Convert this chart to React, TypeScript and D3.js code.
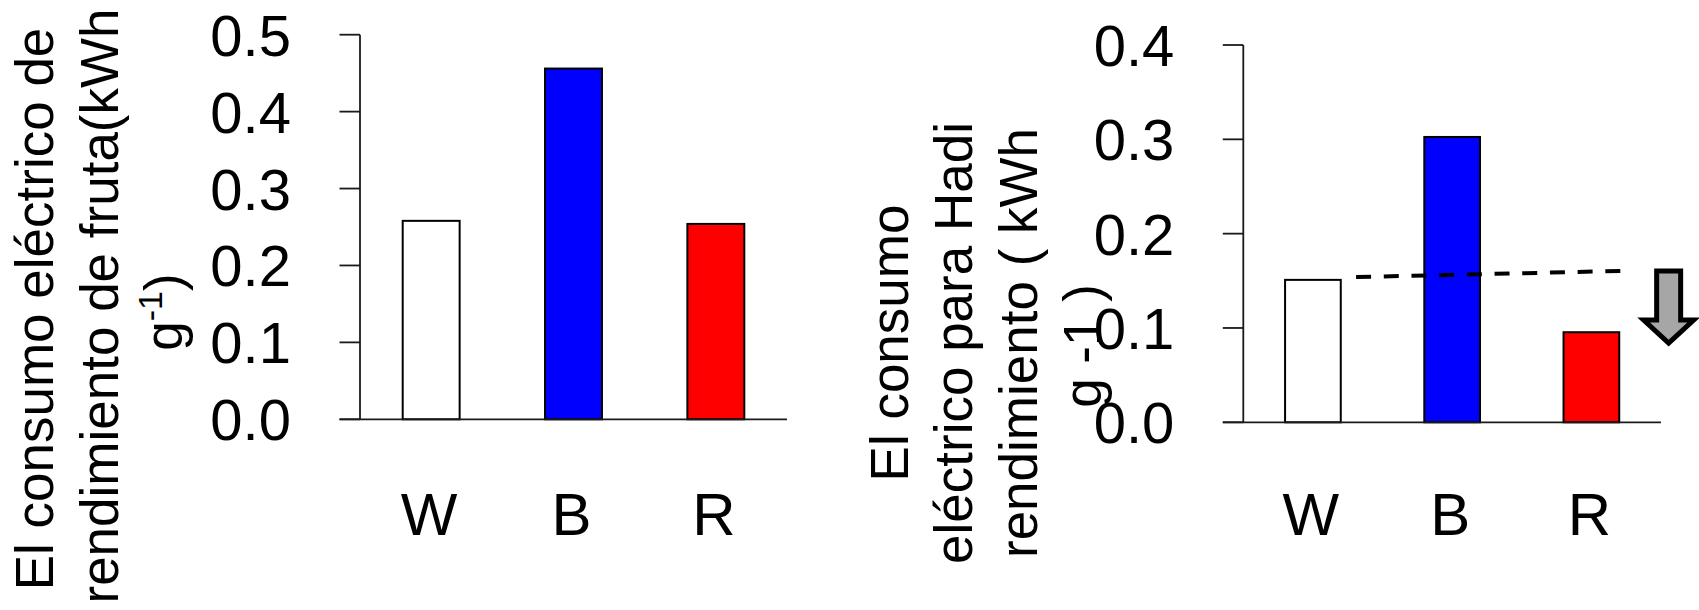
import React from "react";
import * as d3 from "d3";

// ---- data ----
const categories = ["W", "B", "R"];
const fruitValues = [0.258, 0.456, 0.254];
const hadiValues = [0.151, 0.3025, 0.0955];
const barColors = ["#FFFFFF", "#0000FF", "#FF0000"];
const leftTicks = [0, 0.1, 0.2, 0.3, 0.4, 0.5];
const rightTicks = [0, 0.1, 0.2, 0.3, 0.4];
const leftTitleLines = ["El consumo eléctrico de", "rendimiento de fruta(kWh"];
const rightTitleLines = ["El consumo", "eléctrico para Hadi", "rendimiento ( kWh", "g -1 )"];
// dashed reference line in (category-index, value) units
const trendPos = [0.31, 2.23];
const trendValues = [0.154, 0.1605];
// arrow in (category-index, value) units
const arrowPos = 2.555;
const arrowValues = [0.1604, 0.084];

const FONT = "'Liberation Sans', Arial, 'Noto Sans CJK JP', sans-serif";

type PanelProps = {
  values: number[];
  ticks: number[];
  yMax: number;
  x0: number;
  x1: number;
  yZero: number;
  yTop: number;
  children?: (sc: { x: d3.ScaleBand<string>; y: d3.ScaleLinear<number, number> }) => React.ReactNode;
};

function Panel({ values, ticks, yMax, x0, x1, yZero, yTop, children }: PanelProps) {
  const x = d3.scaleBand<string>().domain(categories).range([x0, x1]).paddingInner(0.6).paddingOuter(0.3);
  const y = d3.scaleLinear().domain([0, yMax]).range([yZero, yTop]);
  const tickLen = 20.5;
  return (
    <g>
      {values.map((v, i) => (
        <rect
          key={categories[i]}
          x={x(categories[i])}
          y={y(v)}
          width={x.bandwidth()}
          height={y(0) - y(v)}
          fill={barColors[i]}
          stroke="#000"
          strokeWidth={2}
        />
      ))}
      <line x1={x0} x2={x0} y1={y(yMax)} y2={y(0)} stroke="#1a1a1a" strokeWidth={1.8} />
      <line x1={x0 - tickLen} x2={x1} y1={y(0)} y2={y(0)} stroke="#1a1a1a" strokeWidth={1.8} />
      {ticks.map((t) => (
        <g key={t}>
          <line x1={x0 - tickLen} x2={x0} y1={y(t)} y2={y(t)} stroke="#1a1a1a" strokeWidth={1.8} />
          <text x={x0 - 69} y={y(t) + 21} textAnchor="end" fontSize={58} fontFamily={FONT} fill="#000">
            {t.toFixed(1)}
          </text>
        </g>
      ))}
      {categories.map((c) => (
        <text
          key={c}
          x={(x(c) as number) + x.bandwidth() / 2 - 2}
          y={535}
          textAnchor="middle"
          fontSize={60}
          fontFamily={FONT}
          fill="#000"
        >
          {c}
        </text>
      ))}
      {children ? children({ x, y }) : null}
    </g>
  );
}

function RotLine({ x, y, text, children }: { x: number; y: number; text?: string; children?: React.ReactNode }) {
  return (
    <text
      transform={`translate(${x},${y}) rotate(-90)`}
      textAnchor="middle"
      fontSize={53}
      fontFamily={FONT}
      fill="#000"
    >
      {text}
      {children}
    </text>
  );
}

export default function App() {
  return (
    <svg
      width={1699}
      height={610}
      style={{ position: "absolute", left: 0, top: 0, background: "#fff" }}
      xmlns="http://www.w3.org/2000/svg"
    >
      <rect width={1699} height={610} fill="#fff" />
      {/* left titles */}
      <RotLine x={53} y={309} text={leftTitleLines[0]} />
      <RotLine x={118} y={306} text={leftTitleLines[1]} />
      <RotLine x={182} y={312}>
        g<tspan dy={-20} fontSize={34}>-1</tspan>
        <tspan dy={20}>)</tspan>
      </RotLine>
      <Panel values={fruitValues} ticks={leftTicks} yMax={0.5} x0={360} x1={787} yZero={419.3} yTop={34.7} />

      {/* right titles */}
      {rightTitleLines.map((t, i) => (
        <RotLine key={i} x={908 + i * 64.3} y={i === 3 ? 346 : 343} text={t} />
      ))}
      <Panel values={hadiValues} ticks={rightTicks} yMax={0.4} x0={1243.3} x1={1661} yZero={422.3} yTop={45}>
        {({ x, y }) => {
          const step = x.step();
          const c0 = (x(categories[0]) as number) + x.bandwidth() / 2;
          const px = (p: number) => c0 + p * step;
          const line = d3
            .line<number>()
            .x((_, i) => px(trendPos[i]))
            .y((v) => y(v));
          const ax = px(arrowPos);
          const aTop = y(arrowValues[0]);
          const aBot = y(arrowValues[1]);
          const headTop = aBot - 23;
          const sw = 12;
          const hw = 25;
          const arrow = `M${ax - sw},${aTop} L${ax + sw},${aTop} L${ax + sw},${headTop} L${ax + hw},${headTop} L${ax},${aBot} L${ax - hw},${headTop} L${ax - sw},${headTop} Z`;
          return (
            <g>
              <path d={line(trendValues) || ""} fill="none" stroke="#000" strokeWidth={4} strokeDasharray="15,12.7" />
              <path d={arrow} fill="#A6A6A6" stroke="#000" strokeWidth={5} strokeLinejoin="miter" />
            </g>
          );
        }}
      </Panel>
    </svg>
  );
}
